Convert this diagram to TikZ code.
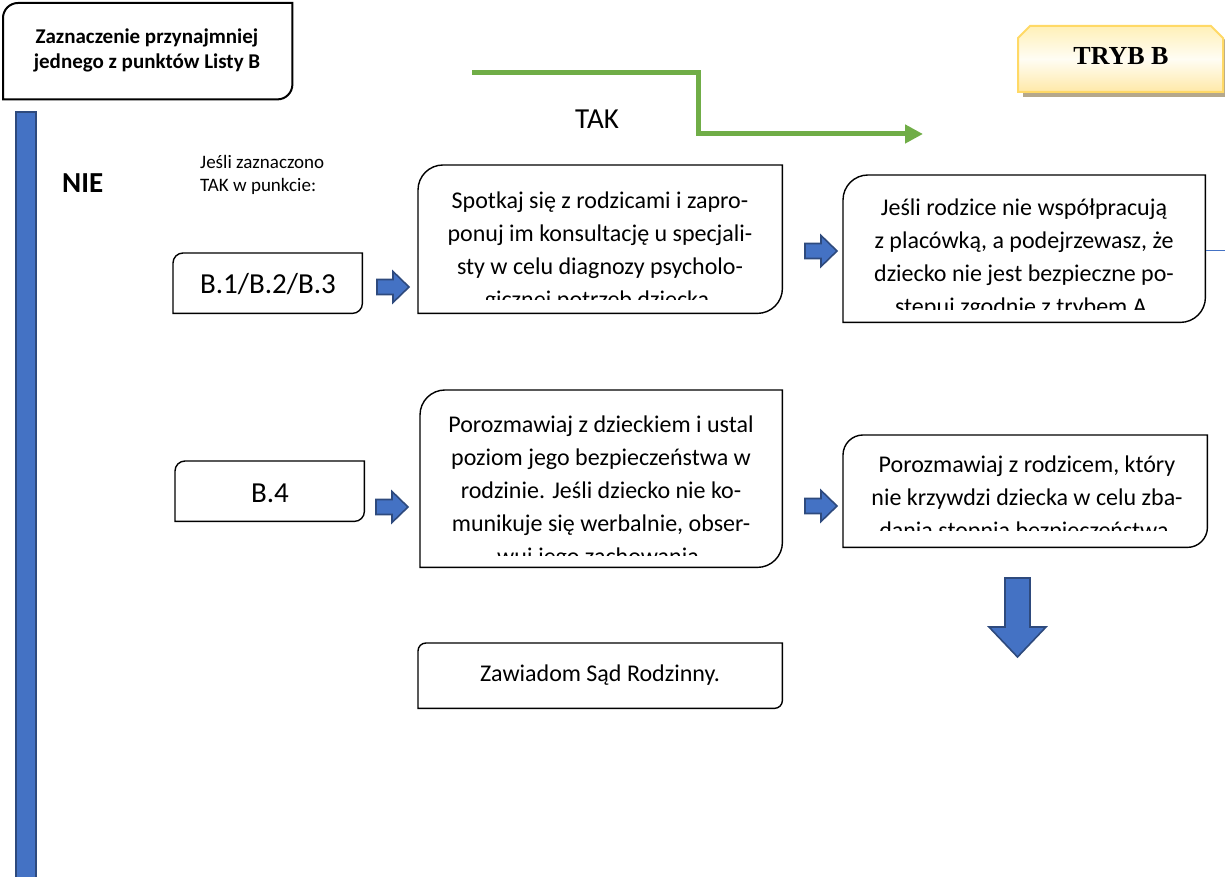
\documentclass[tikz,border=0pt]{standalone}
\usepackage{fontspec}
\setmainfont{Carlito}
\newfontfamily\serifb{Liberation Serif}
\usetikzlibrary{arrows.meta}
\definecolor{oblue}{HTML}{4472C4}
\definecolor{oblueb}{HTML}{2E4A7D}
\definecolor{ogreen}{HTML}{70AD47}
\definecolor{ygold}{HTML}{FFD966}
\definecolor{ytop}{HTML}{FFF0B8}
\definecolor{ymid}{HTML}{FFFDF4}
\definecolor{ybot}{HTML}{FFE9A8}
\definecolor{yshadow}{HTML}{B5A88C}
\newcommand\fl[1]{\rule{0pt}{#1}}
\newcommand\diagshape[3]{%
  \draw[#3] (#1.south west) -- ([yshift=-#2]#1.north west)
    arc[start angle=180,end angle=90,radius=#2] -- (#1.north east)
    -- ([yshift=#2]#1.south east) arc[start angle=0,end angle=-90,radius=#2] -- cycle;}
\newcommand\rarrow[3]{% name, x0, y-center (pixel coords)
  \draw[blockarrow] (#2,877-#3+7.5) -- (#2+16,877-#3+7.5) -- (#2+16,877-#3+15.5)
    -- (#2+32,877-#3) -- (#2+16,877-#3-15.5) -- (#2+16,877-#3-7.5) -- (#2,877-#3-7.5) -- cycle;
  \coordinate (#1) at (#2+16,877-#3);}
\tikzset{
  boxframe/.style={draw=none, inner sep=0pt, anchor=north west},
  boxline/.style={draw=black, line width=1.4pt, fill=white},
  bodytxt/.style={font=\fontsize{24}{33}\selectfont, align=center, inner sep=0pt, anchor=north},
  btxt/.style={font=\fontsize{29}{34}\selectfont, inner sep=0pt, anchor=base},
  blockarrow/.style={fill=oblue, draw=oblueb, line width=1.6pt, line join=miter},
  greenline/.style={draw=ogreen, line width=5pt},
}
\begin{document}
\begin{tikzpicture}[x=1pt,y=1pt]
\useasboundingbox (0,0) rectangle (1225,877);

% left blue bar
\path[fill=oblue, draw=oblueb, line width=2pt] (16,877-112) rectangle (36,-5);
\node[font=\fontsize{29}{32}\selectfont\bfseries, inner sep=0pt, anchor=base west] (nie) at (62,877-193) {NIE};

% header box
\node[boxframe, minimum width=289pt, minimum height=96pt] (head) at (3,877-3) {};
\diagshape{head}{15pt}{boxline, line width=2pt}
\node[font=\fontsize{21}{25}\selectfont\bfseries, align=center, inner sep=0pt, anchor=north] (headt) at (147,877-43+17) {\fl{17pt}Zaznaczenie przynajmniej\\jednego z punktów Listy B};

% TRYB B
\path[fill=yshadow] (1023,877-97) -- (1023,877-43) -- (1035,877-31) -- (1216,877-31) -- (1228,877-43) -- (1228,877-97) -- cycle;
\shade[top color=ytop, bottom color=ybot, middle color=ymid, draw=ygold, line width=2pt]
  (1018,877-92) -- (1018,877-38) -- (1030,877-26) -- (1211,877-26) -- (1223,877-38) -- (1223,877-92) -- cycle;
\node[font=\fontsize{26}{30}\selectfont\serifb\bfseries, inner sep=0pt, anchor=base] (tryb) at (1121,877-65) {TRYB B};

% green TAK arrow
\coordinate (g0) at (472,877-73);
\coordinate (g1) at (698,877-73);
\coordinate (g2) at (698,877-134);
\coordinate (g3) at (923,877-134);
\draw[greenline, -{Triangle[length=18pt,width=18pt]}] (g0) -- (g1) -- (g2) -- (g3);
\node[font=\fontsize{29}{32}\selectfont, inner sep=0pt, anchor=base west] (tak) at (575,877-129) {TAK};

% Jesli zaznaczono
\node[font=\fontsize{19}{23}\selectfont, align=left, inner sep=0pt, anchor=north west] (jesli) at (200,877-168+16) {\fl{16pt}Jeśli zaznaczono\\TAK w punkcie:};

% B.1/B.2/B.3
\node[boxframe, minimum width=189pt, minimum height=60pt] (b1) at (173,877-253) {};
\diagshape{b1}{10pt}{boxline}
\node[btxt] (b1t) at (268,877-294) {B.1/B.2/B.3};
\rarrow{a1}{377}{287}

% box 2
\node[boxframe, minimum width=364pt, minimum height=148pt] (b2) at (418,877-165) {};
\diagshape{b2}{25pt}{boxline}
\begin{scope}
\clip (418,877-165) rectangle (782,877-300);
\node[bodytxt] (b2t) at (600,877-208+20) {\fl{20pt}Spotkaj się z rodzicami i zapro-\\ponuj im konsultację u specjali-\\sty w celu diagnozy psycholo-\\gicznej potrzeb dziecka.};
\end{scope}
\rarrow{a2}{805}{251}

% box 3
\node[boxframe, minimum width=362pt, minimum height=147pt] (b3) at (843,877-175) {};
\diagshape{b3}{25pt}{boxline}
\begin{scope}
\clip (843,877-175) rectangle (1205,877-310);
\node[bodytxt] (b3t) at (1024,877-215+20) {\fl{20pt}Jeśli rodzice nie współpracują\\z placówką, a podejrzewasz, że\\dziecko nie jest bezpieczne po-\\stępuj zgodnie z trybem A.};
\end{scope}
\coordinate (bl0) at (1206,877-251);
\coordinate (bl1) at (1225,877-251);
\draw[oblue, line width=1pt] (bl0) -- (bl1);

% B.4
\node[boxframe, minimum width=189pt, minimum height=60pt] (b4) at (175,877-461) {};
\diagshape{b4}{10pt}{boxline}
\node[btxt] (b4t) at (270,877-503) {B.4};
\rarrow{a3}{376}{507}

% box 4
\node[boxframe, minimum width=362pt, minimum height=177pt] (b5) at (420,877-390) {};
\diagshape{b5}{25pt}{boxline}
\begin{scope}
\clip (420,877-390) rectangle (782,877-556);
\node[bodytxt] (b5t) at (601,877-432+20) {\fl{20pt}Porozmawiaj z dzieckiem i ustal\\poziom jego bezpieczeństwa w\\rodzinie. Jeśli dziecko nie ko-\\munikuje się werbalnie, obser-\\wuj jego zachowania.};
\end{scope}
\rarrow{a4}{805}{506}

% box 5
\node[boxframe, minimum width=364pt, minimum height=112pt] (b6) at (843,877-435) {};
\diagshape{b6}{20pt}{boxline}
\begin{scope}
\clip (843,877-435) rectangle (1207,877-531);
\node[bodytxt] (b6t) at (1027,877-472+20) {\fl{20pt}Porozmawiaj z rodzicem, który\\nie krzywdzi dziecka w celu zba-\\dania stopnia bezpieczeństwa.};
\end{scope}

% down arrow
\draw[blockarrow] (1005,877-578) -- (1030,877-578) -- (1030,877-627) -- (1046,877-627)
  -- (1017.5,877-657) -- (989,877-627) -- (1005,877-627) -- cycle;
\coordinate (da) at (1017.5,877-620);

% Zawiadom
\node[boxframe, minimum width=364pt, minimum height=65pt] (b7) at (418,877-643) {};
\diagshape{b7}{8pt}{boxline}
\node[font=\fontsize{24}{30}\selectfont, inner sep=0pt, anchor=base] (b7t) at (600,877-682) {Zawiadom Sąd Rodzinny.};
\end{tikzpicture}
\end{document}
